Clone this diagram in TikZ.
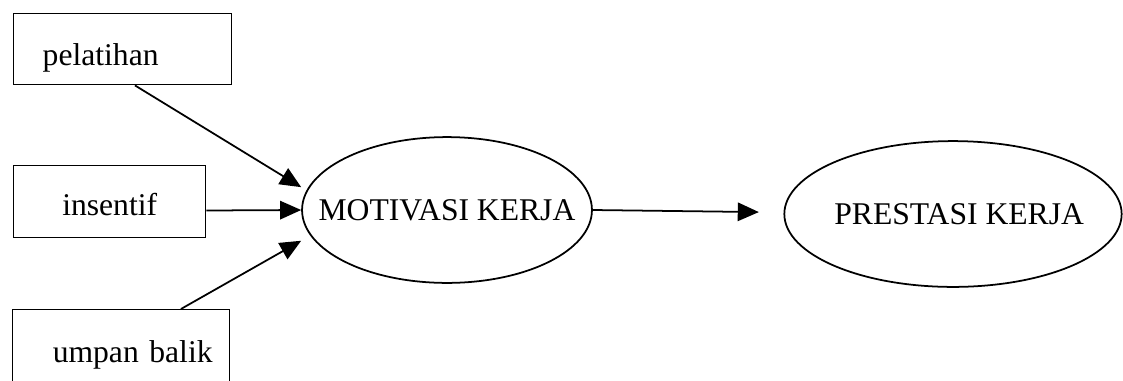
\documentclass[tikz,border=0pt]{standalone}
\usepackage{fontspec}
\setmainfont{Liberation Serif}
\usepackage{tikz}
\usetikzlibrary{shapes.geometric,arrows.meta}

\begin{document}
\begin{tikzpicture}[x=0.02cm,y=-0.02cm,
    faktor/.style={draw,rectangle,line width=0.8pt,anchor=north west,inner xsep=0pt,align=left,text depth=0pt,font=\fontsize{18}{21}\selectfont},
    variabel/.style={draw,ellipse,line width=1pt,inner sep=0pt,minimum height=83pt,font=\fontsize{18}{21}\selectfont},
    panah/.style={line width=1pt,-{Triangle[length=12pt,width=10.5pt]}}]
  %\draw[step=50,gray,very thin] (0,0) grid (1123,380);

  %layout
  \useasboundingbox (0,0) rectangle (1123,380);

  %boxes
  \node[faktor,text width=124pt,minimum height=40.4pt,text height=18.8pt] (pelatihan) at (13,13) {\hspace*{16.5pt}pelatihan};
  \node[faktor,text width=109.3pt,minimum height=41pt,text height=16pt,align=center] (insentif) at (13,165) {insentif};
  \node[faktor,text width=123.5pt,minimum height=45.5pt,text height=14.8pt] (umpan) at (12,309) {\hspace*{22.8pt}umpan balik};

  %ellipses
  \node[variabel,minimum width=165pt] (motivasi) at (447,210) {\makebox[0pt]{MOTIVASI KERJA}};
  \node[variabel,minimum width=192pt] (prestasi) at (953,214) {\makebox[0pt]{\hspace*{7pt}PRESTASI KERJA}};

  %arrows
  \draw[panah] ([xshift=7pt]pelatihan.south) -- ([yshift=13pt]motivasi.west);
  \draw[panah] ([yshift=-5pt]insentif.east) -- (motivasi.west);
  \draw[panah] ([xshift=34pt]umpan.north) -- ([yshift=-17.5pt]motivasi.west);

  \draw[panah] (motivasi.east) -- ([xshift=-14pt,yshift=1.1pt]prestasi.west);

\end{tikzpicture}
\end{document}
